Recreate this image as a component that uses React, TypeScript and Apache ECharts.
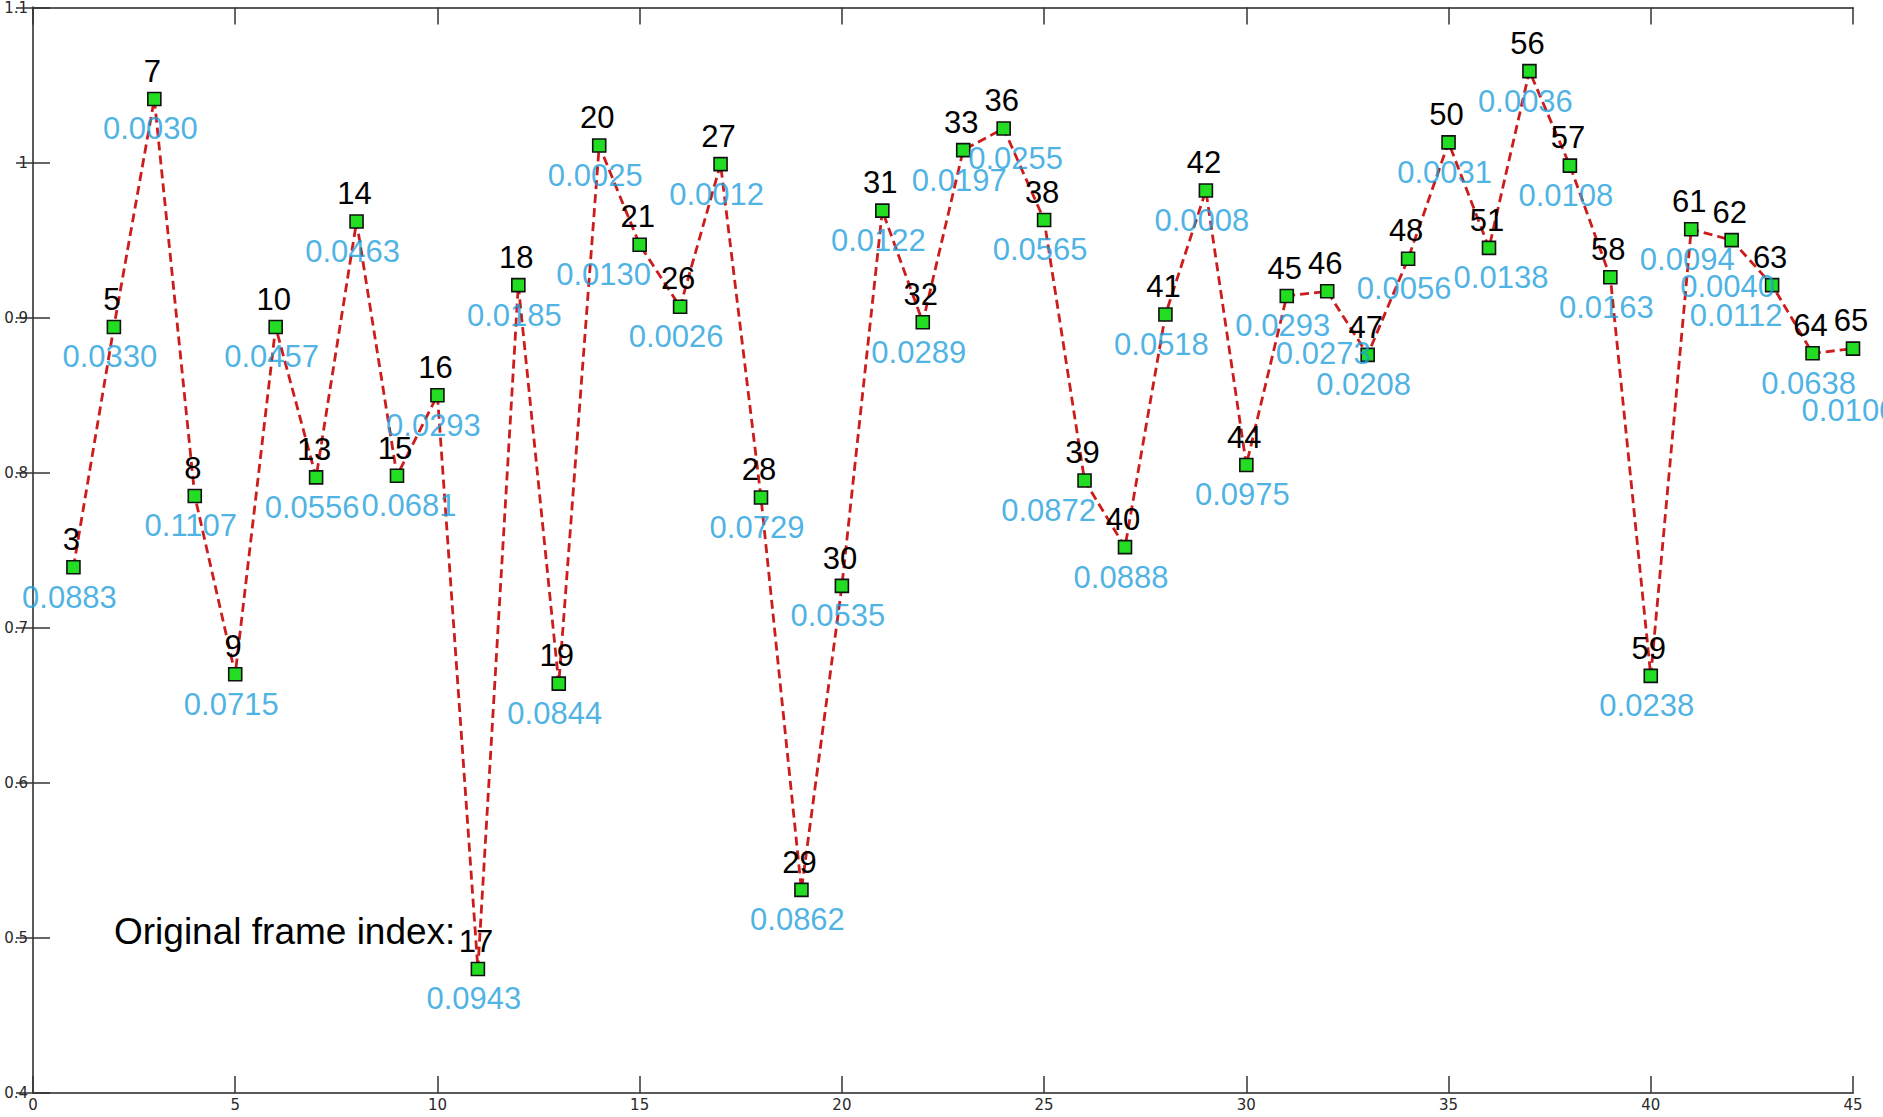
import React, { useEffect, useRef } from "react";
import * as echarts from "echarts";

const positions = [1, 2, 3, 4, 5, 6, 7, 8, 9, 10, 11, 12, 13, 14, 15, 16, 17, 18, 19, 20, 21, 22, 23, 24, 25, 26, 27, 28, 29, 30, 31, 32, 33, 34, 35, 36, 37, 38, 39, 40, 41, 42, 43, 44, 45];
const frameIndex = [3, 5, 7, 8, 9, 10, 13, 14, 15, 16, 17, 18, 19, 20, 21, 26, 27, 28, 29, 30, 31, 32, 33, 36, 38, 39, 40, 41, 42, 44, 45, 46, 47, 48, 50, 51, 56, 57, 58, 59, 61, 62, 63, 64, 65];
const values = [0.739, 0.894, 1.041, 0.785, 0.670, 0.894, 0.797, 0.962, 0.798, 0.850, 0.480, 0.921, 0.664, 1.011, 0.947, 0.907, 0.999, 0.784, 0.531, 0.727, 0.969, 0.897, 1.008, 1.022, 0.963, 0.795, 0.752, 0.902, 0.982, 0.805, 0.914, 0.917, 0.876, 0.938, 1.013, 0.945, 1.059, 0.998, 0.926, 0.669, 0.957, 0.950, 0.921, 0.877, 0.880];
const scoreLabels = ["0.0883", "0.0330", "0.0030", "0.1107", "0.0715", "0.0457", "0.0556", "0.0463", "0.0681", "0.0293", "0.0943", "0.0185", "0.0844", "0.0025", "0.0130", "0.0026", "0.0012", "0.0729", "0.0862", "0.0535", "0.0122", "0.0289", "0.0197", "0.0255", "0.0565", "0.0872", "0.0888", "0.0518", "0.0008", "0.0975", "0.0293", "0.0273", "0.0208", "0.0056", "0.0031", "0.0138", "0.0036", "0.0108", "0.0163", "0.0238", "0.0094", "0.0040", "0.0112", "0.0638", "0.0100"];
const annotation = "Original frame index:";

const FONT = "Liberation Sans, Arial, sans-serif";
const LABEL_SIZE = 31;

function textWidth(s: string) {
  let w = 0;
  for (const ch of s) w += ch === "." ? 0.278 : 0.556;
  return w * LABEL_SIZE;
}

type Box = { x0: number; x1: number; y0: number; y1: number };
function overlap(a: Box, b: Box) {
  const w = Math.min(a.x1, b.x1) - Math.max(a.x0, b.x0);
  const h = Math.min(a.y1, b.y1) - Math.max(a.y0, b.y0);
  return w > 0 && h > 0 ? w * h : 0;
}

export default function App() {
  const ref = useRef<HTMLDivElement>(null);
  useEffect(() => {
    if (!ref.current) return;
    const chart = echarts.init(ref.current, null, { renderer: "svg" });
    const pts = positions.map((x, i) => [x, values[i]]);
    const axisLine = { show: true, lineStyle: { color: "#5a5a5a", width: 2 } };
    const tick = { show: true, inside: true, length: 17, lineStyle: { color: "#333", width: 1.5 } };
    const tickFont = { fontFamily: "DejaVu Sans", fontSize: 15, color: "#2a2a2a" };
    const option: any = {
      animation: false,
      backgroundColor: "#fff",
      grid: { left: 33, right: 30, top: 2, bottom: 24, containLabel: false },
      xAxis: [
        {
          type: "value", min: 0, max: 45, interval: 5, position: "bottom",
          axisLine, axisTick: tick, splitLine: { show: false },
          axisLabel: { ...tickFont, margin: 4 },
        },
        {
          type: "value", min: 0, max: 45, interval: 5, position: "top",
          axisLine, axisTick: tick, splitLine: { show: false },
          axisLabel: { show: false },
        },
      ],
      yAxis: [
        {
          type: "value", min: 0.4, max: 1.1, interval: 0.1, position: "left",
          axisLine, axisTick: tick, splitLine: { show: false },
          axisLabel: { ...tickFont, margin: 5 },
        },
        {
          type: "value", min: 0.4, max: 1.1, interval: 0.1, position: "right",
          axisLine, axisTick: tick, splitLine: { show: false },
          axisLabel: { show: false },
        },
      ],
      series: [
        {
          type: "line",
          data: pts,
          symbol: "rect",
          symbolSize: 13,
          showSymbol: true,
          lineStyle: { color: "#CC1C1C", width: 2.8, type: [9, 5] },
          itemStyle: { color: "#22DD22", borderColor: "#111", borderWidth: 1.6 },
          label: {
            show: true,
            position: "top",
            distance: 5,
            offset: [-2, 0],
            formatter: (p: any) => String(frameIndex[p.dataIndex]),
            fontFamily: FONT,
            fontSize: LABEL_SIZE,
            color: "#000",
          },
          z: 2,
        },
        {
          type: "scatter",
          data: pts,
          symbol: "rect",
          symbolSize: 13,
          itemStyle: { color: "rgba(0,0,0,0)" },
          label: {
            show: true,
            position: "bottom",
            distance: 8,
            offset: [-4, 0],
            formatter: (p: any) => scoreLabels[p.dataIndex],
            fontFamily: FONT,
            fontSize: LABEL_SIZE,
            color: "#1EA0DC",
          },
          z: 3,
          silent: true,
        },
      ],
      graphic: [
        {
          type: "text",
          left: 114,
          top: 913,
          style: { text: annotation, fontFamily: FONT, fontSize: 37, fill: "#000" },
          z: 10,
        },
      ],
    };
    chart.setOption(option);

    // dodge overlapping value labels, using pixel positions from the chart's own scales
    const pix = pts.map((p) => chart.convertToPixel({ gridIndex: 0 }, p) as number[]);
    const placed: Box[] = pix.map(([px, py], i) => {
      const w = textWidth(String(frameIndex[i]));
      const cx = px - 2;
      const cy = py - 27;
      return { x0: cx - w / 2, x1: cx + w / 2, y0: cy - 11, y1: cy + 11 };
    });
    const cands: number[][] = [];
    for (const dy of [0, 8, 16, 24, 32]) for (const dx of [0, -16, 16, -32]) cands.push([dx, dy]);
    const blueOffsets: number[][] = [];
    pix.forEach(([px, py], i) => {
      const w = textWidth(scoreLabels[i]);
      let best = cands[0];
      let bestCost = Infinity;
      for (const [dx, dy] of cands) {
        const cx = px - 4 + dx;
        const cy = py + 30 + dy;
        const b = { x0: cx - w / 2, x1: cx + w / 2, y0: cy - 11, y1: cy + 11 };
        let cost = 0;
        for (const o of placed) cost += overlap(b, o);
        cost = cost * 10 + Math.abs(dx) * 2 + dy * 3;
        if (cost < bestCost) {
          bestCost = cost;
          best = [dx, dy];
        }
      }
      blueOffsets.push(best);
      const cx = px - 4 + best[0];
      const cy = py + 30 + best[1];
      placed.push({ x0: cx - w / 2, x1: cx + w / 2, y0: cy - 11, y1: cy + 11 });
    });
    chart.setOption({
      series: [
        {},
        {
          data: pts.map((p, i) => ({
            value: p,
            label: { offset: [-4 + blueOffsets[i][0], blueOffsets[i][1]] },
          })),
        },
      ],
    });
    return () => chart.dispose();
  }, []);
  return (
    <div
      ref={ref}
      style={{ position: "fixed", left: 0, top: 0, width: 1883, height: 1117, background: "#fff" }}
    />
  );
}
